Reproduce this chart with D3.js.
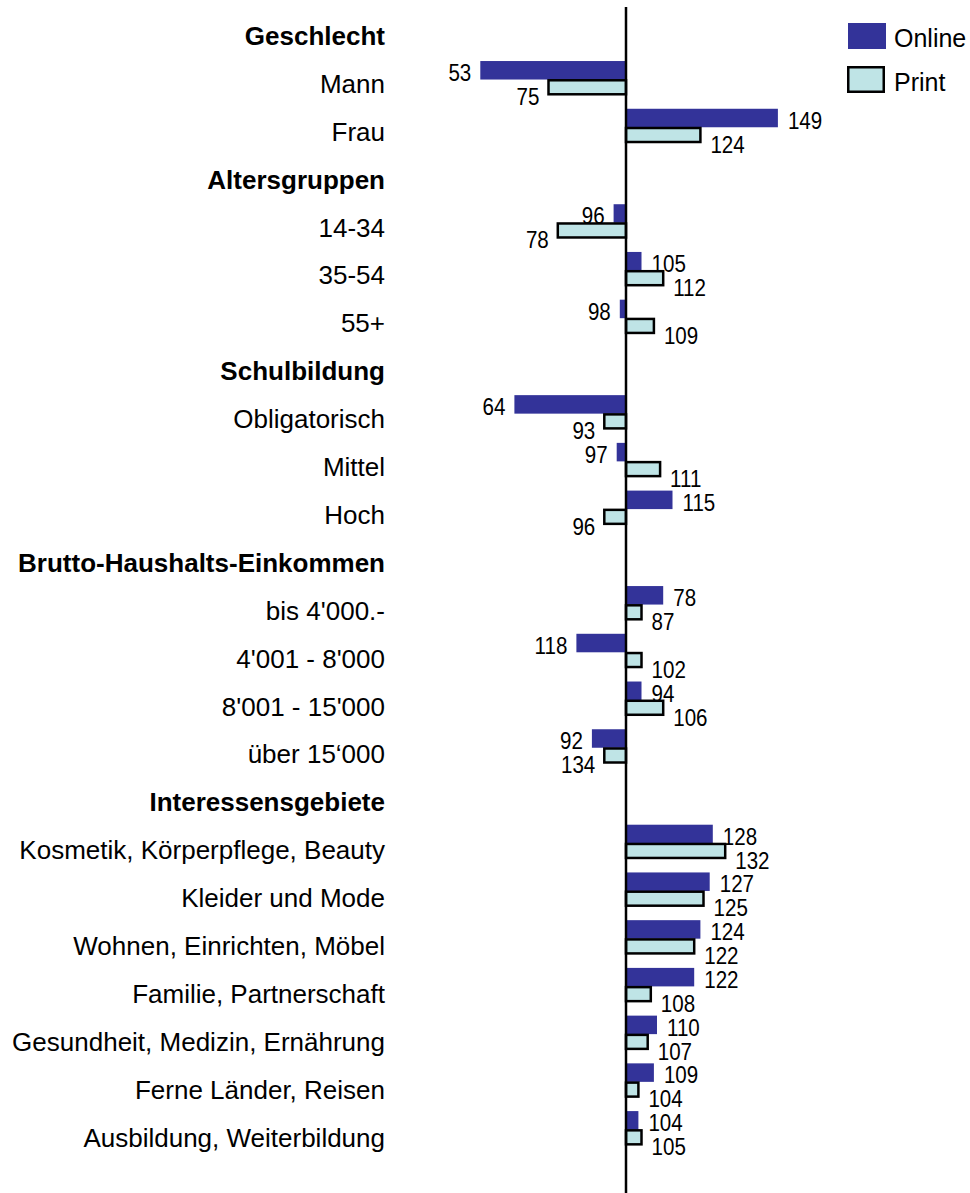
<!DOCTYPE html>
<html lang="de">
<head>
	<meta charset="UTF-8">
	<title>Online / Print</title>
	<style>
		body { margin: 0; background: #fff; }
		svg text { font-family: "Liberation Sans", Arial, sans-serif; fill: #000; }
	</style>
</head>
<body>
	<svg width="970" height="1193"></svg>
	<script src="https://cdn.jsdelivr.net/npm/d3@7"></script>
	<script>
		var categories = ["Geschlecht", "Mann", "Frau",
			"Altersgruppen", "14-34", "35-54", "55+",
			"Schulbildung", "Obligatorisch", "Mittel", "Hoch",
			"Brutto-Haushalts-Einkommen", "bis 4'000.-", "4'001 - 8'000", "8'001 - 15'000", "über 15‘000",
			"Interessensgebiete", "Kosmetik, Körperpflege, Beauty", "Kleider und Mode", "Wohnen, Einrichten, Möbel",
			"Familie, Partnerschaft", "Gesundheit, Medizin, Ernährung", "Ferne Länder, Reisen", "Ausbildung, Weiterbildung"];
		var headers = ["Geschlecht", "Altersgruppen", "Schulbildung", "Brutto-Haushalts-Einkommen", "Interessensgebiete"];

		// printed index values (null = header row)
		var onlineLabels = [null, 53, 149, null, 96, 105, 98, null, 64, 97, 115, null, 78, 118, 94, 92, null, 128, 127, 124, 122, 110, 109, 104];
		var printLabels  = [null, 75, 124, null, 78, 112, 109, null, 93, 111, 96, null, 87, 102, 106, 134, null, 132, 125, 122, 108, 107, 104, 105];
		// bar lengths as drawn in the original (income rows don't match their labels there)
		var onlineBars = [null, 53, 149, null, 96, 105, 98, null, 64, 97, 115, null, 112, 84, 105, 89, null, 128, 127, 124, 122, 110, 109, 104];
		var printBars  = [null, 75, 124, null, 78, 112, 109, null, 93, 111, 93, null, 105, 105, 112, 93, null, 132, 125, 122, 108, 107, 104, 105];

		var seriesNames = ["Online", "Print"];
		var colors = ["#333399", "#bfe4e6"];

		var svg = d3.select("svg");
		var base = 100;

		var x = d3.scaleLinear().domain([50, 150]).range([471, 781]);
		var yBar = d3.scaleBand().domain(categories).range([13.3, 13.3 + 24 * 47.73]);
		var yLabel = d3.scaleBand().domain(categories).range([12, 12 + 24 * 47.9]);

		var rows = categories.map(function (c, i) {
			return { name: c, header: headers.indexOf(c) >= 0, on: onlineBars[i], pr: printBars[i], onL: onlineLabels[i], prL: printLabels[i] };
		});
		var dataRows = rows.filter(function (d) { return !d.header; });

		// category labels
		svg.append("g").selectAll("text")
			.data(rows)
			.enter().append("text")
			.attr("x", 385)
			.attr("y", function (d) { return yLabel(d.name) + yLabel.bandwidth() / 2 + 9; })
			.attr("text-anchor", "end")
			.style("font-size", "26px")
			.style("font-weight", function (d) { return d.header ? "bold" : "normal"; })
			.text(function (d) { return d.name; });

		// online bars
		svg.append("g").selectAll("rect")
			.data(dataRows)
			.enter().append("rect")
			.attr("x", function (d) { return x(Math.min(d.on, base)); })
			.attr("y", function (d) { return yBar(d.name); })
			.attr("width", function (d) { return Math.abs(x(d.on) - x(base)); })
			.attr("height", 18.5)
			.attr("fill", colors[0]);

		// print bars
		svg.append("g").selectAll("rect")
			.data(dataRows)
			.enter().append("rect")
			.attr("x", function (d) { return x(Math.min(d.pr, base)); })
			.attr("y", function (d) { return yBar(d.name) + 19.25; })
			.attr("width", function (d) { return Math.abs(x(d.pr) - x(base)); })
			.attr("height", 14)
			.attr("fill", colors[1])
			.attr("stroke", "#000")
			.attr("stroke-width", 2.5);

		// value labels
		function valueLabels(barKey, labelKey, dy) {
			svg.append("g").selectAll("text")
				.data(dataRows)
				.enter().append("text")
				.attr("transform", function (d) {
					var xx = d[barKey] >= base ? x(d[barKey]) + 10 : x(d[barKey]) - 9;
					return "translate(" + xx + "," + (yBar(d.name) + dy) + ") scale(0.84,1)";
				})
				.attr("text-anchor", function (d) { return d[barKey] >= base ? "start" : "end"; })
				.style("font-size", "24.5px")
				.text(function (d) { return d[labelKey]; });
		}
		valueLabels("on", "onL", 20);
		valueLabels("pr", "prL", 44);

		// vertical base line at 100
		svg.append("line")
			.attr("x1", x(base)).attr("x2", x(base))
			.attr("y1", 7).attr("y2", 1193)
			.attr("stroke", "#000")
			.attr("stroke-width", 2.5);

		// legend
		var legend = svg.append("g");
		legend.append("rect").attr("x", 848).attr("y", 23).attr("width", 38).attr("height", 26).attr("fill", colors[0]);
		legend.append("rect").attr("x", 848.25).attr("y", 67.25).attr("width", 35.5).attr("height", 24.5)
			.attr("fill", colors[1]).attr("stroke", "#000").attr("stroke-width", 2.5);
		legend.selectAll("text")
			.data(seriesNames)
			.enter().append("text")
			.attr("x", 894)
			.attr("y", function (d, i) { return 47 + i * 44; })
			.style("font-size", "25px")
			.text(function (d) { return d; });
	</script>
</body>
</html>
